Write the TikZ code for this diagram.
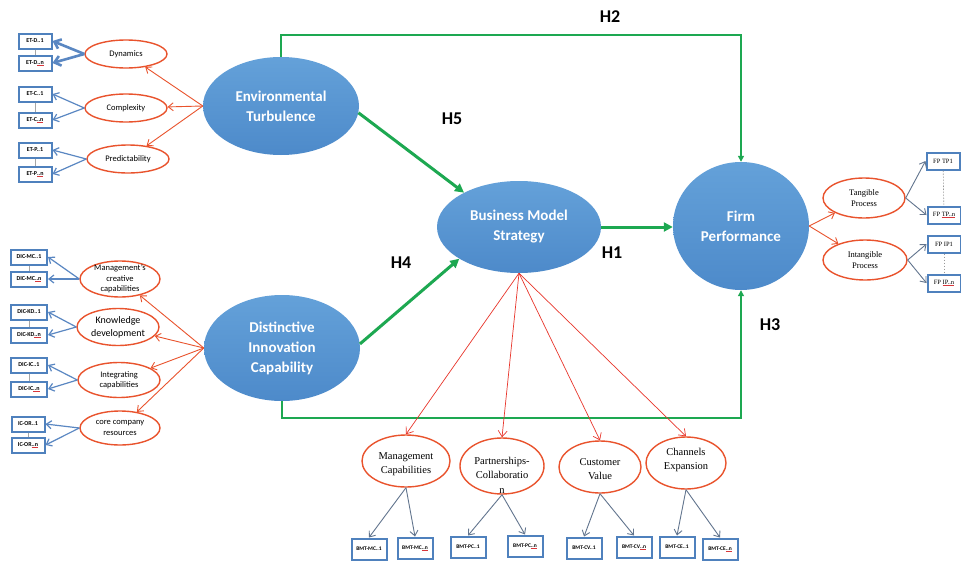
\documentclass[tikz,border=0pt]{standalone}
\usepackage{fontspec}
\setmainfont{Carlito}
\newfontfamily\serifface{Liberation Serif}
\usetikzlibrary{shapes.geometric,arrows.meta}

\definecolor{lvblueT}{HTML}{64A1D9}
\definecolor{lvblueB}{HTML}{4D8ACA}
\definecolor{dimred}{HTML}{E9532D}
\definecolor{pathred}{HTML}{E8352B}
\definecolor{boxblue}{HTML}{4F81BD}
\definecolor{loadblue}{HTML}{5A87C2}
\definecolor{loadgray}{HTML}{62758E}
\definecolor{hgreen}{HTML}{1DA851}
\definecolor{sqred}{HTML}{D9363A}

% red mark under the indicator suffix
\newcommand\spellmark[1]{\setbox0=\hbox{#1}\rlap{\color{sqred}\rule[-1.4pt]{\wd0}{0.5pt}}\box0}

\tikzset{
  latent/.style={ellipse, inner sep=0pt, draw=none, top color=lvblueT, bottom color=lvblueB,
    text=white, align=center, font=\fontsize{15}{20}\selectfont\bfseries},
  dimshape/.style={ellipse, draw=dimred, line width=1.4pt, fill=white, inner sep=0pt},
  dimtxtL/.style={align=center, inner sep=0pt, font=\fontsize{8.5}{10.5}\selectfont},
  dimtxtK/.style={align=center, inner sep=0pt, font=\fontsize{10}{13}\selectfont},
  dimtxtT/.style={align=center, inner sep=0pt, font=\serifface\fontsize{10.5}{14.5}\selectfont},
  dimtxtR/.style={align=center, inner sep=0pt, font=\serifface\fontsize{8.5}{10.5}\selectfont},
  ind/.style={rectangle, draw=boxblue, line width=2pt, fill=white, inner sep=0pt,
    minimum width=33pt, minimum height=15pt, font=\fontsize{6}{7}\selectfont\bfseries},
  indR/.style={ind, minimum width=33pt, minimum height=17pt, font=\serifface\fontsize{6.5}{7}\selectfont},
  indB/.style={ind, minimum width=35pt, minimum height=21pt, font=\fontsize{5.5}{7}\selectfont\bfseries},
  hlab/.style={inner sep=0pt, font=\fontsize{18}{20}\selectfont\bfseries},
  redarr/.style={draw=dimred, line width=0.9pt, -{Straight Barb[length=5pt,width=8pt]}},
  bmarr/.style={draw=pathred, line width=0.7pt, -{Straight Barb[length=6pt,width=9pt]}},
  blarr/.style={draw=loadblue, line width=1.2pt, -{Straight Barb[length=5pt,width=8pt]}},
  blarrthick/.style={blarr, line width=2.6pt, -{Straight Barb[length=6pt,width=10pt]}},
  gyarr/.style={draw=loadgray, line width=0.9pt, -{Straight Barb[length=5pt,width=8pt]}},
  hpath/.style={draw=hgreen, line width=3pt, -{Triangle[length=9pt,width=9pt]}},
  hthin/.style={draw=hgreen, line width=1.3pt, -{Triangle[length=6pt,width=6pt]}},
  pairline/.style={draw=gray!70, line width=0.6pt},
  pairdash/.style={draw=gray!80, line width=0.6pt, dash pattern=on 1.5pt off 1.5pt},
}

\begin{document}
\begin{tikzpicture}[x=1pt,y=-1pt]
\fill[white] (0,0) rectangle (961,565);
\useasboundingbox (0,0) rectangle (961,565);

% ---- central constructs ----
\node[latent, minimum width=156pt, minimum height=98pt] (et) at (281,106) {Environmental\\Turbulence};
\node[latent, minimum width=156pt, minimum height=106pt] (dic) at (282,348) {Distinctive\\Innovation\\Capability};
\node[latent, minimum width=164pt, minimum height=92pt] (bms) at (519,227) {Business Model\\Strategy};
\node[latent, minimum width=136pt, minimum height=128pt] (fp) at (741,226) {Firm\\Performance};

% ---- dimensions of Environmental Turbulence ----
\node[dimshape, minimum width=82pt, minimum height=28pt, label={[dimtxtL]center:Dynamics}] (dyn) at (126,54) {};
\node[dimshape, minimum width=82pt, minimum height=28pt, label={[dimtxtL]center:Complexity}] (cpx) at (126,108) {};
\node[dimshape, minimum width=82pt, minimum height=28pt, label={[dimtxtL]center:Predictability}] (prd) at (128,159) {};

% ---- dimensions of Distinctive Innovation Capability ----
\node[dimshape, minimum width=80pt, minimum height=36pt, label={[dimtxtL]center:Management's\\creative\\capabilities}] (mcc) at (120,279) {};
\node[dimshape, minimum width=82pt, minimum height=37pt, label={[dimtxtK]center:Knowledge\\development}] (kdv) at (118,327) {};
\node[dimshape, minimum width=82pt, minimum height=35pt, label={[dimtxtL]center:Integrating\\capabilities}] (intc) at (119,380) {};
\node[dimshape, minimum width=80pt, minimum height=34pt, label={[dimtxtL]center:core company\\resources}] (ccr) at (120,428) {};

% ---- dimensions of Business Model Strategy ----
\node[dimshape, minimum width=88pt, minimum height=52pt, label={[dimtxtT, yshift=-3pt]center:Management\\Capabilities}] (mcap) at (406,461) {};
\node[dimshape, minimum width=84pt, minimum height=56pt, label={[dimtxtT, yshift=-9pt]center:Partnerships-\\Collaboratio\\n}] (pcol) at (502,466) {};
\node[dimshape, minimum width=82pt, minimum height=52pt, label={[dimtxtT, yshift=-2pt]center:Customer\\Value}] (cval) at (600,467) {};
\node[dimshape, minimum width=80pt, minimum height=52pt, label={[dimtxtT, yshift=3pt]center:Channels\\Expansion}] (chex) at (686,463) {};

% ---- dimensions of Firm Performance ----
\node[dimshape, minimum width=82pt, minimum height=40pt, label={[dimtxtR]center:Tangible\\Process}] (tang) at (864,198) {};
\node[dimshape, minimum width=84pt, minimum height=40pt, label={[dimtxtR]center:Intangible\\Process}] (intg) at (865,260) {};

% ---- indicators ----
\node[ind] (etd1) at (35,41) {ET-D..1};
\node[ind] (etdn) at (35,63) {ET-D\spellmark{..n}};
\node[ind] (etc1) at (35,94) {ET-C..1};
\node[ind] (etcn) at (35,120) {ET-C\spellmark{..n}};
\node[ind] (etp1) at (35,150) {ET-P..1};
\node[ind] (etpn) at (35,174) {ET-P\spellmark{..n}};

\node[ind, minimum width=36pt] (dmc1) at (29,257) {DIC-MC..1};
\node[ind, minimum width=36pt] (dmcn) at (29,279) {DIC-MC\spellmark{..n}};
\node[ind, minimum width=36pt] (dkd1) at (29,312) {DIC-KD..1};
\node[ind, minimum width=36pt] (dkdn) at (29,335) {DIC-KD\spellmark{..n}};
\node[ind, minimum width=36pt] (dic1) at (29,365) {DIC-IC..1};
\node[ind, minimum width=36pt] (dicn) at (29,389) {DIC-IC\spellmark{..n}};
\node[ind] (dor1) at (28,424) {IC-OR..1};
\node[ind] (dorn) at (28,445) {IC-OR\spellmark{..n}};

\node[indR] (tp1) at (943,161) {FP TP1};
\node[indR] (tpn) at (944,215) {FP \spellmark{TP..n}};
\node[indR] (ip1) at (944,244) {FP IP1};
\node[indR] (ipn) at (944,283) {FP \spellmark{IP..n}};

\node[indB] (bmc1) at (369,549) {BMT-MC..1};
\node[indB] (bmcn) at (415,548) {BMT-MC\spellmark{..n}};
\node[indB] (bpc1) at (468,547) {BMT-PC..1};
\node[indB] (bpcn) at (525,546) {BMT-PC\spellmark{..n}};
\node[indB] (bcv1) at (584,548) {BMT-CV..1};
\node[indB] (bcvn) at (634,547) {BMT-CV\spellmark{..n}};
\node[indB] (bce1) at (677,547) {BMT-CE..1};
\node[indB] (bcen) at (720,549) {BMT-CE\spellmark{..n}};

% links inside indicator pairs
\foreach \a/\b in {etd1/etdn, etc1/etcn, etp1/etpn, dmc1/dmcn, dkd1/dkdn, dic1/dicn, dor1/dorn}
  \draw[pairline] (\a) -- (\b);
\draw[pairdash] (tp1) -- (tpn);
\draw[pairdash] (ip1) -- (ipn);

% ---- hypothesised paths ----
\coordinate (h2y) at (0,35);
\coordinate (h3y) at (0,418);
\draw[hthin] (et.north) -- (et.north |- h2y) -| (fp.north);
\draw[hthin] (dic.south) -- (dic.south |- h3y) -| (fp.south);
\draw[hpath] (et.-5) -- (bms.148);
\draw[hpath] (dic.3) -- (bms.208);
\draw[hpath] (bms.east) -- (bms.east -| fp.west);

\node[hlab] (h2lab) at (610,17) {H2};
\node[hlab] (h5lab) at (452,119) {H5};
\node[hlab] (h4lab) at (401,263) {H4};
\node[hlab] (h1lab) at (612,253) {H1};
\node[hlab] (h3lab) at (770,325) {H3};

% ---- construct to dimension arrows ----
\foreach \d in {dyn, cpx, prd}
  \draw[redarr] (et.west) -- (\d);
\foreach \d in {mcc, kdv, intc, ccr}
  \draw[redarr] (dic.west) -- (\d);
\foreach \d in {tang, intg}
  \draw[redarr] (fp.east) -- (\d);
\foreach \d in {mcap, pcol, cval, chex}
  \draw[bmarr] (bms.south) -- (\d.north);

% ---- dimension to indicator arrows ----
\draw[blarrthick] (dyn.west) -- (etd1.east);
\draw[blarrthick] (dyn.west) -- (etdn.east);
\draw[blarr] (cpx.west) -- (etc1.east);
\draw[blarr] (cpx.west) -- (etcn.east);
\draw[blarr] (prd.west) -- (etp1.east);
\draw[blarr] (prd.west) -- (etpn.east);
\draw[blarr] (mcc.west) -- (dmc1.east);
\draw[blarr] (mcc.west) -- (dmcn.east);
\draw[blarr] (kdv.west) -- (dkd1.east);
\draw[blarr] (kdv.west) -- (dkdn.east);
\draw[blarr] (intc.west) -- (dic1.east);
\draw[blarr] (intc.west) -- (dicn.east);
\draw[blarr] (ccr.west) -- (dor1.east);
\draw[blarr] (ccr.west) -- (dorn.east);

\draw[gyarr] (tang.east) -- (tp1.west);
\draw[gyarr] (tang.east) -- (tpn.west);
\draw[gyarr] (intg.east) -- (ip1.west);
\draw[gyarr] (intg.east) -- (ipn.west);

\draw[gyarr] (mcap.south) -- (bmc1.north);
\draw[gyarr] (mcap.south) -- (bmcn.north);
\draw[gyarr] (pcol.south) -- (bpc1.north);
\draw[gyarr] (pcol.south) -- (bpcn.north);
\draw[gyarr] (cval.south) -- (bcv1.north);
\draw[gyarr] (cval.south) -- (bcvn.north);
\draw[gyarr] (chex.south) -- (bce1.north);
\draw[gyarr] (chex.south) -- (bcen.north);
\end{tikzpicture}
\end{document}
